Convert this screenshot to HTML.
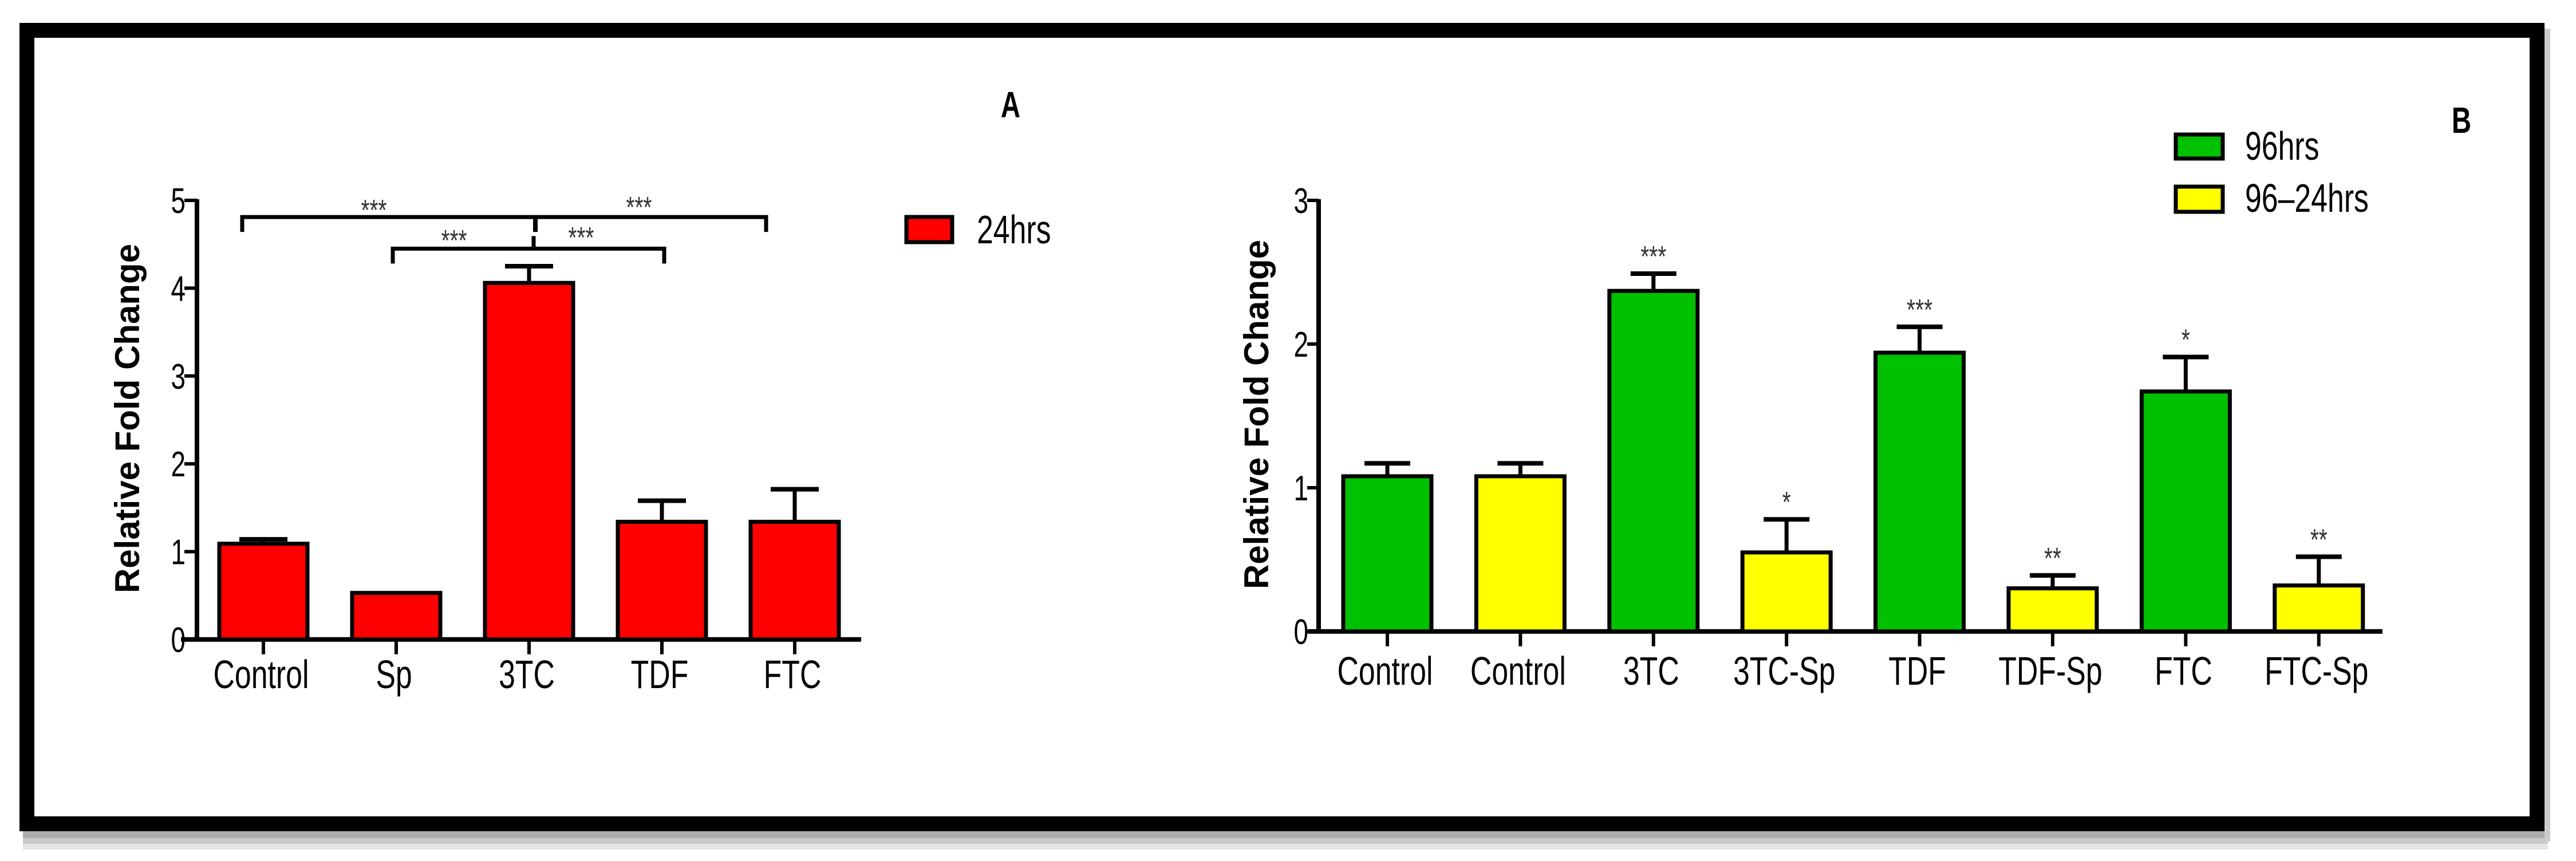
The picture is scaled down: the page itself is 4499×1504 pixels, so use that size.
<!DOCTYPE html>
<html><head><meta charset="utf-8"><style>
html,body{margin:0;padding:0;background:#fff}
svg{display:block}
text{font-family:"Liberation Sans Narrow","Liberation Sans",sans-serif;fill:#000}
.yt{font-family:"Liberation Sans",sans-serif;font-weight:bold;font-size:60px}
</style></head><body>
<svg id="fig" width="4499" height="1504" viewBox="0 0 4499 1504" xmlns="http://www.w3.org/2000/svg">
<rect x="40" y="1452" width="4410" height="12" fill="#adadad"/>
<rect x="40" y="1464" width="4410" height="10" fill="#c9c9c9"/>
<rect x="40" y="1474" width="4410" height="10" fill="#e5e5e5"/>
<rect x="4444" y="50" width="10" height="1420" fill="#ccc"/>
<rect x="47" y="53" width="4384" height="1386" fill="none" stroke="#000" stroke-width="26"/>
<g id="A"></g>
<g id="B"></g>
</svg>
<script>
const catsA=["Control","Sp","3TC","TDF","FTC"];
const valsA=[1.09,0.53,4.06,1.34,1.34];
const errA=[1.14,null,4.25,1.58,1.71];
const ticksA=[0,1,2,3,4,5];
const catsB=["Control","Control","3TC","3TC-Sp","TDF","TDF-Sp","FTC","FTC-Sp"];
const valsB=[1.08,1.08,2.37,0.55,1.94,0.30,1.67,0.32];
const errB=[1.17,1.17,2.49,0.78,2.12,0.39,1.91,0.52];
const sigB=["","","***","*","***","**","*","**"];
const seriesB=[0,1,0,1,0,1,0,1];
const ticksB=[0,1,2,3];
const NS="http://www.w3.org/2000/svg";
function mk(p,tag,attrs,txt){const e=document.createElementNS(NS,tag);for(const k in attrs)e.setAttribute(k,attrs[k]);if(txt!==undefined)e.textContent=txt;p.appendChild(e);return e;}
function ct(p,x,y,anchor,size,txt,extra){return mk(p,'text',{transform:`translate(${x},${y}) scale(0.74,1)`,x:0,y:0,'text-anchor':anchor,style:`font-size:${size}px;${extra||''}`},txt);}

// Panel A
(function(){
const g=document.getElementById('A');
const x0=344,y0=1117,ppu=153.4,cx0=460,step=232,bw=154;
const ya=v=>y0-v*ppu, xa=i=>cx0+i*step;
let e;
e=mk(g,'line',{x1:x0,y1:ya(5)-2,x2:x0,y2:y0+4,stroke:'#000','stroke-width':8});

e=mk(g,'line',{x1:316,y1:y0,x2:1504,y2:y0,stroke:'#000','stroke-width':8});

ticksA.forEach(t=>{
 mk(g,'line',{x1:x0-22,y1:ya(t),x2:x0,y2:ya(t),stroke:'#000','stroke-width':6});
 e=ct(g,x0-20,ya(t)+22,'end',62,String(t));
 
});
catsA.forEach((c,i)=>{
 const cx=xa(i);
 e=mk(g,'rect',{x:cx-bw/2,y:ya(valsA[i]),width:bw,height:y0-ya(valsA[i]),fill:'#ff0000',stroke:'#000','stroke-width':7});
 
 if(errA[i]!=null){
  mk(g,'line',{x1:cx,y1:ya(errA[i]),x2:cx,y2:ya(valsA[i]),stroke:'#000','stroke-width':7});
  mk(g,'line',{x1:cx-42,y1:ya(errA[i]),x2:cx+42,y2:ya(errA[i]),stroke:'#000','stroke-width':8});
 }
 mk(g,'line',{x1:cx,y1:y0,x2:cx,y2:y0+26,stroke:'#000','stroke-width':6});
 e=ct(g,cx-4,1202,'middle',70,c);
 
});
function br(i1,i2,v,drop){
 const y=ya(v),xl=xa(i1)-(i1===0?37:6),xr=xa(i2)+(i2===4?-50:4);
 mk(g,'path',{d:`M${xl} ${y+drop} V${y} H${xr} V${y+drop}`,fill:'none',stroke:'#000','stroke-width':7});
}
br(0,4,4.81,26);br(1,3,4.45,26);
mk(g,'line',{x1:935,y1:ya(4.81),x2:935,y2:ya(4.81)+26,stroke:'#000','stroke-width':8});
mk(g,'line',{x1:932,y1:ya(4.45),x2:932,y2:ya(4.45)-22,stroke:'#000','stroke-width':7});
[[653,385],[1116,380],[793,438],[1015,433]].forEach((p,k)=>{
 e=ct(g,p[0],p[1],'middle',52,'***','fill:#333');
 
});
e=mk(g,'text',{transform:'translate(243,731) rotate(-90)','text-anchor':'middle',class:'yt'},'Relative Fold Change');

e=ct(g,1765,205,'middle',64,'A','font-weight:bold');

e=mk(g,'rect',{x:1583,y:379,width:80,height:44,fill:'#ff0000',stroke:'#000','stroke-width':7});

e=ct(g,1706,425,'start',70,'24hrs');

})();

// Panel B
(function(){
const g=document.getElementById('B');
const x0=2303,y0=1103,ppu=251,cx0=2423,step=232.4,bw=154;
const ya=v=>y0-v*ppu, xa=i=>cx0+i*step;
const cols=['#00c000','#ffff00'];
let e;
e=mk(g,'line',{x1:x0,y1:ya(3)-2,x2:x0,y2:y0+4,stroke:'#000','stroke-width':8});

e=mk(g,'line',{x1:2284,y1:y0,x2:4161,y2:y0,stroke:'#000','stroke-width':8});

ticksB.forEach(t=>{
 mk(g,'line',{x1:x0-20,y1:ya(t),x2:x0,y2:ya(t),stroke:'#000','stroke-width':6});
 e=ct(g,x0-18,ya(t)+22,'end',62,String(t));
 
});
catsB.forEach((c,i)=>{
 const cx=xa(i);
 e=mk(g,'rect',{x:cx-bw/2,y:ya(valsB[i]),width:bw,height:y0-ya(valsB[i]),fill:cols[seriesB[i]],stroke:'#000','stroke-width':7});
 
 mk(g,'line',{x1:cx,y1:ya(errB[i]),x2:cx,y2:ya(valsB[i]),stroke:'#000','stroke-width':7});
 mk(g,'line',{x1:cx-40,y1:ya(errB[i]),x2:cx+40,y2:ya(errB[i]),stroke:'#000','stroke-width':8});
 if(sigB[i]){
  e=ct(g,cx,ya(errB[i])-12,'middle',52,sigB[i],'fill:#333');
  
 }
 mk(g,'line',{x1:cx,y1:y0,x2:cx,y2:y0+26,stroke:'#000','stroke-width':6});
 e=ct(g,cx-4,1196,'middle',70,c);
 
});
e=mk(g,'text',{transform:'translate(2215,724) rotate(-90)','text-anchor':'middle',class:'yt'},'Relative Fold Change');

e=ct(g,4299,232,'middle',64,'B','font-weight:bold');

e=mk(g,'rect',{x:3800,y:235,width:82,height:42,fill:cols[0],stroke:'#000','stroke-width':7});

e=ct(g,3921,279,'start',70,'96hrs');

e=mk(g,'rect',{x:3800,y:326,width:82,height:44,fill:cols[1],stroke:'#000','stroke-width':7});

e=ct(g,3921,370,'start',70,'96–24hrs');

})();
</script>
</body></html>
